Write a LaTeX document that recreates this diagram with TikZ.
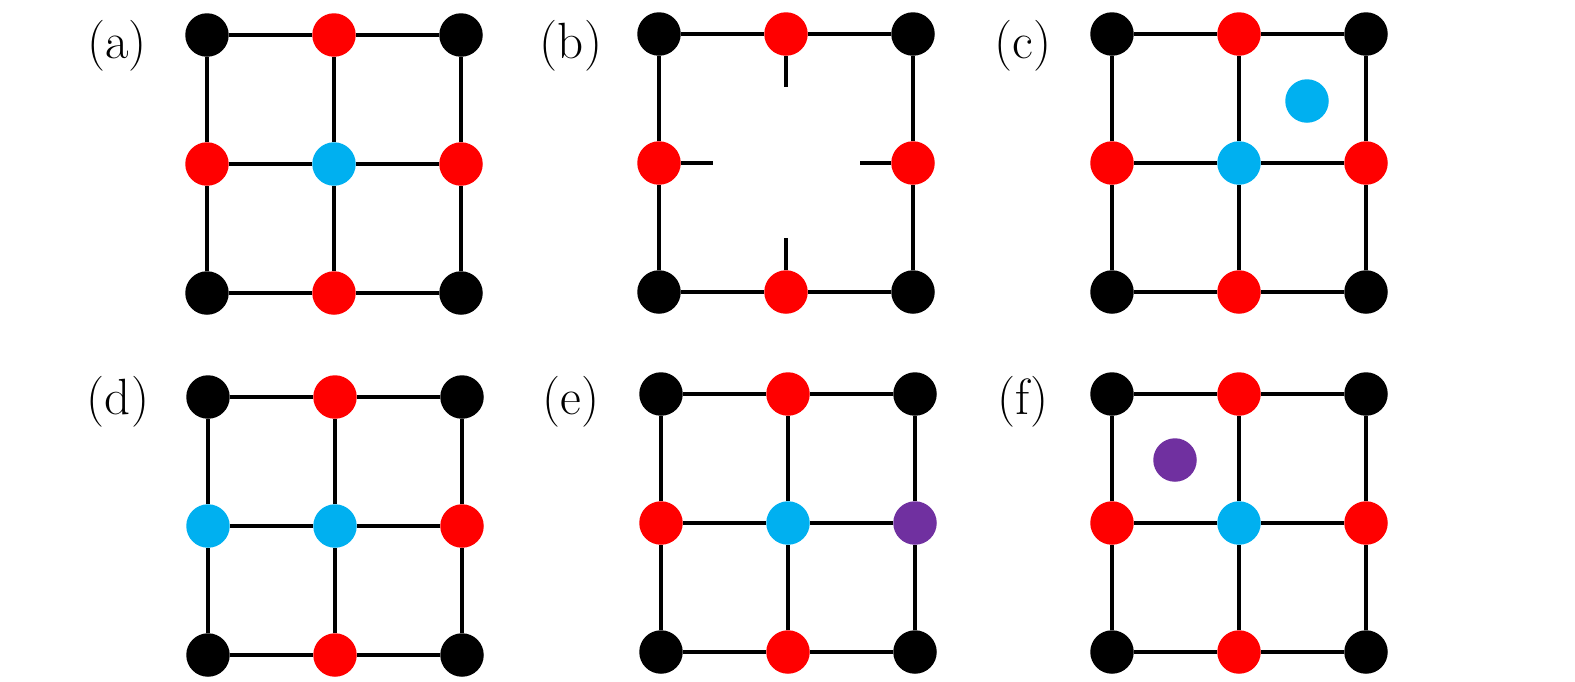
\documentclass[tikz,border=0pt]{standalone}
\usepackage{tikz}
\definecolor{cyanblue}{HTML}{00B0F0}
\definecolor{purplesite}{HTML}{7030A0}
\tikzstyle{site} = [circle, minimum size=0.87cm, inner sep=0pt]
\tikzstyle{corner} = [site, fill=black]
\tikzstyle{edgesite} = [site, fill=red]
\tikzstyle{flux} = [site, fill=cyanblue]
\tikzstyle{dual} = [site, fill=purplesite]
\tikzstyle{bond} = [line width=1.9pt]
\tikzstyle{panellabel} = [font=\fontsize{29}{32}\selectfont]

\begin{document}
\begin{tikzpicture}[x=0.02cm, y=-0.02cm]

    \useasboundingbox (0,0) rectangle (1575,681);

    % (a)
    \begin{scope}[shift={(207,35)}]
        \node (aTL) [corner] at (0,0) {};
        \node (aT) [edgesite] at (127,0) {};
        \node (aTR) [corner] at (254,0) {};
        \node (aL) [edgesite] at (0,129) {};
        \node (aC) [flux] at (127,129) {};
        \node (aR) [edgesite] at (254,129) {};
        \node (aBL) [corner] at (0,258) {};
        \node (aB) [edgesite] at (127,258) {};
        \node (aBR) [corner] at (254,258) {};
        \draw[bond] (aTL) -- (aT) -- (aTR) -- (aR) -- (aBR) -- (aB) -- (aBL) -- (aL) -- (aTL);
        \draw[bond] (aT) -- (aC) -- (aB);
        \draw[bond] (aL) -- (aC) -- (aR);
    \end{scope}

    % (b)
    \begin{scope}[shift={(659,34)}]
        \node (bTL) [corner] at (0,0) {};
        \node (bT) [edgesite] at (127,0) {};
        \node (bTR) [corner] at (254,0) {};
        \node (bL) [edgesite] at (0,129) {};
        \node (bR) [edgesite] at (254,129) {};
        \node (bBL) [corner] at (0,258) {};
        \node (bB) [edgesite] at (127,258) {};
        \node (bBR) [corner] at (254,258) {};
        \coordinate (bTend) at (127,53);
        \coordinate (bLend) at (54,129);
        \coordinate (bRend) at (201,129);
        \coordinate (bBend) at (127,204);
        \draw[bond] (bTL) -- (bT) -- (bTR) -- (bR) -- (bBR) -- (bB) -- (bBL) -- (bL) -- (bTL);
        \draw[bond] (bT) -- (bTend);
        \draw[bond] (bL) -- (bLend);
        \draw[bond] (bR) -- (bRend);
        \draw[bond] (bB) -- (bBend);
    \end{scope}

    % (c)
    \begin{scope}[shift={(1112,34)}]
        \node (cTL) [corner] at (0,0) {};
        \node (cT) [edgesite] at (127,0) {};
        \node (cTR) [corner] at (254,0) {};
        \node (cL) [edgesite] at (0,129) {};
        \node (cC) [flux] at (127,129) {};
        \node (cR) [edgesite] at (254,129) {};
        \node (cBL) [corner] at (0,258) {};
        \node (cB) [edgesite] at (127,258) {};
        \node (cBR) [corner] at (254,258) {};
        \node (cP) [flux] at (195,67) {};
        \draw[bond] (cTL) -- (cT) -- (cTR) -- (cR) -- (cBR) -- (cB) -- (cBL) -- (cL) -- (cTL);
        \draw[bond] (cT) -- (cC) -- (cB);
        \draw[bond] (cL) -- (cC) -- (cR);
    \end{scope}

    % (d)
    \begin{scope}[shift={(208,397)}]
        \node (dTL) [corner] at (0,0) {};
        \node (dT) [edgesite] at (127,0) {};
        \node (dTR) [corner] at (254,0) {};
        \node (dL) [flux] at (0,129) {};
        \node (dC) [flux] at (127,129) {};
        \node (dR) [edgesite] at (254,129) {};
        \node (dBL) [corner] at (0,258) {};
        \node (dB) [edgesite] at (127,258) {};
        \node (dBR) [corner] at (254,258) {};
        \draw[bond] (dTL) -- (dT) -- (dTR) -- (dR) -- (dBR) -- (dB) -- (dBL) -- (dL) -- (dTL);
        \draw[bond] (dT) -- (dC) -- (dB);
        \draw[bond] (dL) -- (dC) -- (dR);
    \end{scope}

    % (e)
    \begin{scope}[shift={(661,394)}]
        \node (eTL) [corner] at (0,0) {};
        \node (eT) [edgesite] at (127,0) {};
        \node (eTR) [corner] at (254,0) {};
        \node (eL) [edgesite] at (0,129) {};
        \node (eC) [flux] at (127,129) {};
        \node (eR) [dual] at (254,129) {};
        \node (eBL) [corner] at (0,258) {};
        \node (eB) [edgesite] at (127,258) {};
        \node (eBR) [corner] at (254,258) {};
        \draw[bond] (eTL) -- (eT) -- (eTR) -- (eR) -- (eBR) -- (eB) -- (eBL) -- (eL) -- (eTL);
        \draw[bond] (eT) -- (eC) -- (eB);
        \draw[bond] (eL) -- (eC) -- (eR);
    \end{scope}

    % (f)
    \begin{scope}[shift={(1112,394)}]
        \node (fTL) [corner] at (0,0) {};
        \node (fT) [edgesite] at (127,0) {};
        \node (fTR) [corner] at (254,0) {};
        \node (fL) [edgesite] at (0,129) {};
        \node (fC) [flux] at (127,129) {};
        \node (fR) [edgesite] at (254,129) {};
        \node (fBL) [corner] at (0,258) {};
        \node (fB) [edgesite] at (127,258) {};
        \node (fBR) [corner] at (254,258) {};
        \node (fP) [dual] at (63,66) {};
        \draw[bond] (fTL) -- (fT) -- (fTR) -- (fR) -- (fBR) -- (fB) -- (fBL) -- (fL) -- (fTL);
        \draw[bond] (fT) -- (fC) -- (fB);
        \draw[bond] (fL) -- (fC) -- (fR);
    \end{scope}

    % labels
    \node (alab) [panellabel] at (117,46) {(a)};
    \node (blab) [panellabel] at (571,46) {(b)};
    \node (clab) [panellabel] at (1023,46) {(c)};
    \node (dlab) [panellabel] at (118,402) {(d)};
    \node (elab) [panellabel] at (571,402) {(e)};
    \node (flab) [panellabel] at (1023,402) {(f)};

\end{tikzpicture}
\end{document}
